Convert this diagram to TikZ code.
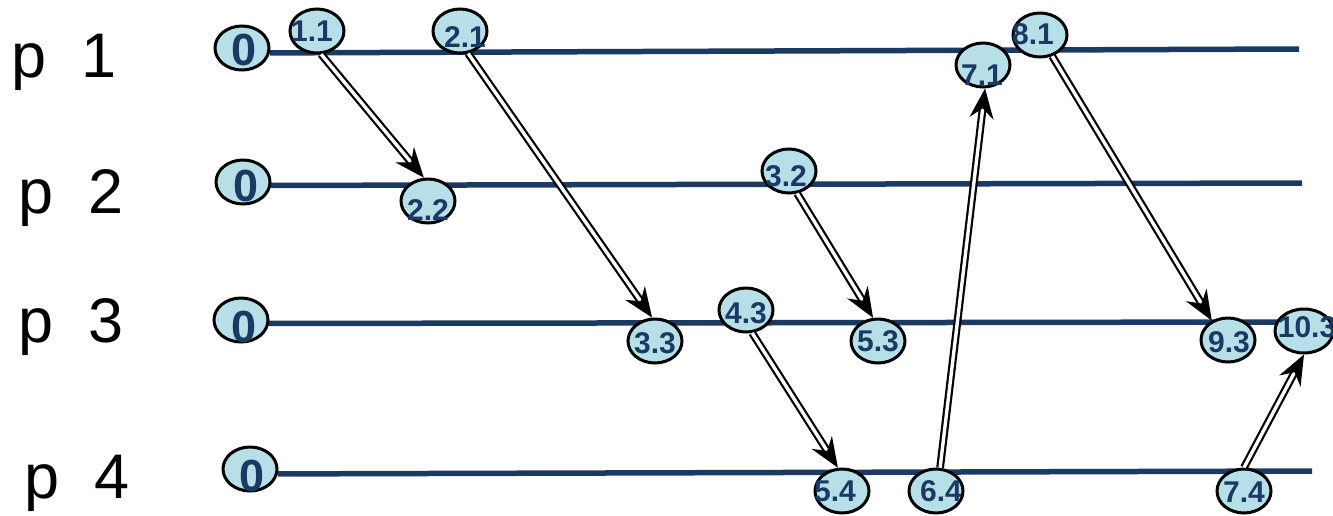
\documentclass[tikz,border=0pt]{standalone}
\usepackage{fontspec}
\setmainfont{Liberation Sans}
\usetikzlibrary{shapes.geometric,arrows.meta,backgrounds}
\definecolor{evfill}{HTML}{B7DFE8}
\definecolor{navy}{HTML}{1B3A63}
\begin{document}
\begin{tikzpicture}[x=1pt,y=-1pt,
  ev/.style={ellipse,draw=black,line width=3pt,fill=evfill,minimum width=54pt,minimum height=44pt,inner sep=0pt},
  evt/.style={font=\bfseries\fontsize{30}{30}\selectfont,text=navy,inner sep=0pt},
  evz/.style={font=\bfseries\fontsize{45}{45}\selectfont,text=navy,inner sep=0pt},
  pline/.style={draw=navy,line width=5.5pt},
  msg/.style={draw=black,double=white,double distance=3.4pt,line width=2.2pt,-{Stealth[length=30pt,width=24pt,inset=10pt]}},
  plabel/.style={font=\fontsize{63}{63}\selectfont,anchor=base west,inner sep=0pt}]
\useasboundingbox (0,0) rectangle (1333,515);
% process labels
\node[plabel] (p1) at (11,77) {p\ \ 1};
\node[plabel] (p2) at (18,213) {p\ \ 2};
\node[plabel] (p3) at (18,342) {p\ \ 3};
\node[plabel] (p4) at (24,498) {p\ \ 4};
% initial events
\node[ev,label={[evz,xshift=2pt,yshift=-2pt]center:0}] (z1) at (242,48) {};
\node[ev,label={[evz,xshift=3pt,yshift=-4pt]center:0}] (z2) at (243,182) {};
\node[ev,label={[evz,xshift=3pt,yshift=-7pt]center:0}] (z3) at (241,320) {};
\node[ev,label={[evz,xshift=2pt,yshift=-7pt]center:0}] (z4) at (250,469) {};
% line end points
\coordinate (e1) at (1299,49);
\coordinate (e2) at (1302,183);
\coordinate (e3) at (1290,322);
\coordinate (e4) at (1312,471);
% events
\node[ev,label={[evt,xshift=-5pt]center:1.1}] (n11) at (317,31) {};
\node[ev,label={[evt,xshift=5pt,yshift=-6pt]center:2.1}] (n21) at (460,31) {};
\node[ev,label={[evt,xshift=-1pt,yshift=-10pt]center:7.1}] (n71) at (983,65) {};
\node[ev,label={[evt,xshift=-7pt,yshift=1pt]center:8.1}] (n81) at (1040,35) {};
\node[ev,label={[evt,yshift=-9pt]center:2.2}] (n22) at (428,201) {};
\node[ev,label={[evt,xshift=-3pt,yshift=-5pt]center:3.2}] (n32) at (789,171) {};
\node[ev,label={[evt,yshift=-2pt]center:3.3}] (n33) at (655,341) {};
\node[ev,label={[evt,yshift=-3pt]center:4.3}] (n43) at (746,310) {};
\node[ev,label={[evt]center:5.3}] (n53) at (878,341) {};
\node[ev,label={[evt,xshift=1pt,yshift=-2pt]center:9.3}] (n93) at (1228,340) {};
\node[ev,minimum width=58pt,label={[evt,xshift=3pt,yshift=4pt]center:10.3}] (n103) at (1304,331) {};
\node[ev,label={[evt,xshift=-7pt]center:5.4}] (n54) at (842,491) {};
\node[ev,label={[evt,xshift=5pt]center:6.4}] (n64) at (936,491) {};
\node[ev,label={[evt,yshift=-1pt]center:7.4}] (n74) at (1244,491) {};
% process lines behind
\begin{pgfonlayer}{background}
\draw[pline] (z1.-10) -- (e1);
\draw[pline] (z2.-7) -- (e2);
\draw[pline] (z3.-7) -- (e3);
\draw[pline] (z4.-10) -- (e4);
\end{pgfonlayer}
% messages
\draw[msg] (n11.-80) -- (n22.100);
\draw[msg] (n21.-70) -- (n33.97);
\draw[msg] (n32.-70) -- (n53.102);
\draw[msg] (n43.-75) -- (n54.100);
\draw[msg] (n64.80) -- (n71.-85);
\draw[msg] (n81.-60) -- (n93.130);
\draw[msg] (n74.90) -- (n103.-90);
\end{tikzpicture}
\end{document}
